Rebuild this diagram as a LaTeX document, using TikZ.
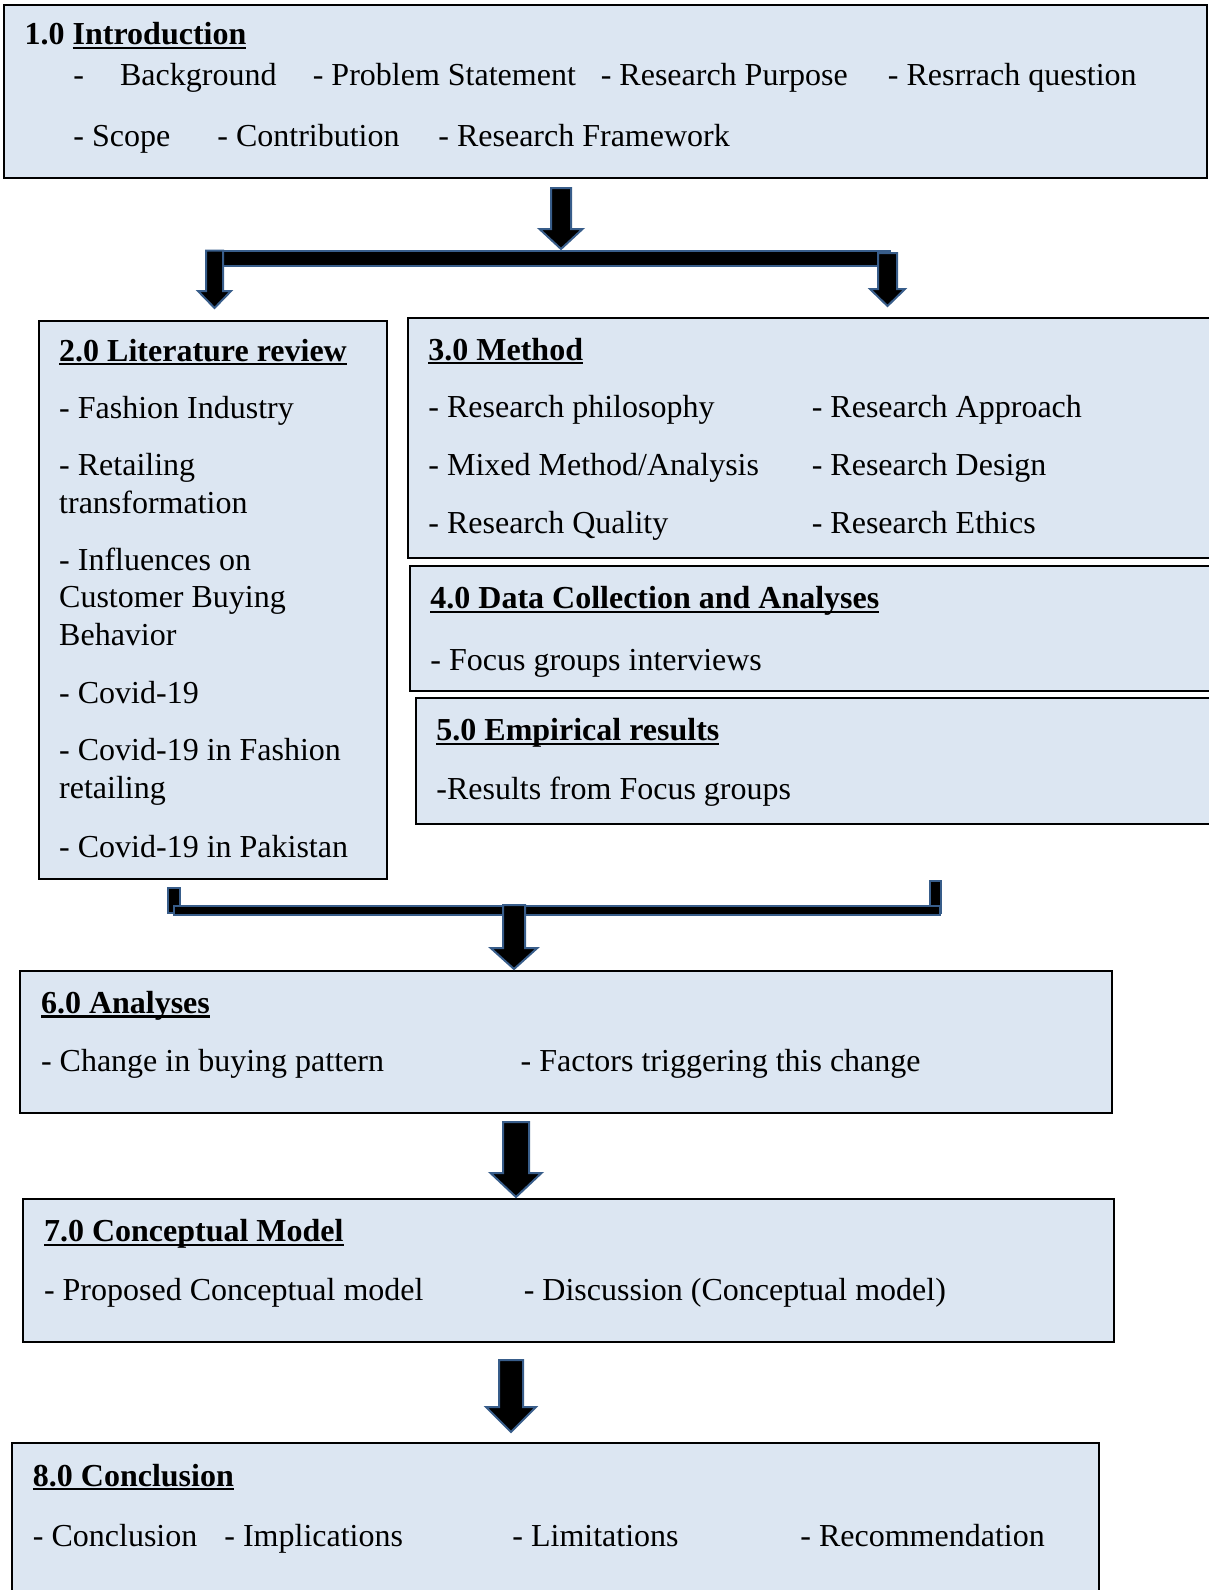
\documentclass[tikz,border=0pt]{standalone}
\usepackage{fontspec}
\setmainfont{Liberation Serif}
\usetikzlibrary{fit}
\definecolor{boxfill}{HTML}{DCE6F2}
\definecolor{arrowline}{HTML}{385D8A}
\newcommand{\ulhead}[1]{\setbox0\hbox{#1}\rlap{\rule[-2.2pt]{\wd0}{1.1pt}}\box0}
% x centre, top, start of head, tip, half shaft, half head
\newcommand{\blockarrow}[6]{\draw[blockarrow] (#1-#5,#2) -- (#1+#5,#2) -- (#1+#5,#3) -- (#1+#6,#3) -- (#1,#4) -- (#1-#6,#3) -- (#1-#5,#3) -- cycle;}
\begin{document}
\begin{tikzpicture}[x=0.5pt, y=-0.5pt,
  box/.style={draw=black, line width=1pt, fill=boxfill, inner sep=0pt},
  txt/.style={anchor=base west, inner sep=0pt, font=\fontsize{16}{19}\selectfont},
  blockarrow/.style={fill=black, draw=arrowline, line width=1pt}]
\useasboundingbox (0,0) rectangle (1209,1590);

\node[box, fit={(4,5) (1207,178)}] (intro) {};
\node[box, fit={(38.5,320.5) (386.5,879)}] (litrev) {};
\node[box, fit={(408,317.5) (1222,558)}] (method) {};
\node[box, fit={(410,566) (1222,691)}] (datacoll) {};
\node[box, fit={(416,698) (1222,823.5)}] (empirical) {};
\node[box, fit={(20,970.5) (1111.5,1112.5)}] (analyses) {};
\node[box, fit={(23,1199) (1113.5,1342)}] (concmodel) {};
\node[box, fit={(12,1443) (1098.5,1600)}] (conclusion) {};

\node[txt] (introhead) at (24.3,44.6) {\textbf{1.0 \ulhead{Introduction}}};
\node[txt] (introdash) at (73,85.2) {-};
\node[txt] (introbg) at (119.7,85.2) {Background};
\node[txt] (introps) at (312.4,85.2) {- Problem Statement};
\node[txt] (introrp) at (600.4,85.2) {- Research Purpose};
\node[txt] (introrq) at (887.5,85.2) {- Resrrach question};
\node[txt] (introsc) at (73,146) {- Scope};
\node[txt] (introco) at (217,146) {- Contribution};
\node[txt] (introrf) at (438,146) {- Research Framework};

\node[txt] (lithead) at (58.8,361) {\textbf{\ulhead{2.0 Literature review}}};
\foreach \y/\t [count=\i] in {418.9/- Fashion Industry, 475.7/- Retailing, 513.2/transformation,
  570/- Influences on, 607.5/Customer Buying, 645/Behavior, 703.9/- Covid-19,
  760.7/- Covid-19 in Fashion, 798.2/retailing, 857/- Covid-19 in Pakistan}
  \node[txt] (lit\i) at (58.8,\y) {\t};

\node[txt] (methhead) at (428,360) {\textbf{\ulhead{3.0 Method}}};
\node[txt] (meth1) at (428,417.8) {- Research philosophy};
\node[txt] (meth2) at (811.4,417.8) {- Research Approach};
\node[txt] (meth3) at (428,475.7) {- Mixed Method/Analysis};
\node[txt] (meth4) at (811.4,475.7) {- Research Design};
\node[txt] (meth5) at (428,533.5) {- Research Quality};
\node[txt] (meth6) at (811.4,533.5) {- Research Ethics};

\node[txt] (datahead) at (430,608.5) {\textbf{\ulhead{4.0 Data Collection and Analyses}}};
\node[txt] (data1) at (430,670.4) {- Focus groups interviews};

\node[txt] (emphead) at (436,740.4) {\textbf{\ulhead{5.0 Empirical results}}};
\node[txt] (emp1) at (436,799.2) {-Results from Focus groups};

\node[txt] (anahead) at (40.6,1013.2) {\textbf{\ulhead{6.0 Analyses}}};
\node[txt] (ana1) at (40.6,1071) {- Change in buying pattern};
\node[txt] (ana2) at (520.3,1071) {- Factors triggering this change};

\node[txt] (modhead) at (43.6,1241.5) {\textbf{\ulhead{7.0 Conceptual Model}}};
\node[txt] (mod1) at (43.6,1300.3) {- Proposed Conceptual model};
\node[txt] (mod2) at (523.4,1300.3) {- Discussion (Conceptual model)};

\node[txt] (conhead) at (32.5,1486) {\textbf{\ulhead{8.0 Conclusion}}};
\node[txt] (con1) at (32.5,1546.7) {- Conclusion};
\node[txt] (con2) at (224,1546.7) {- Implications};
\node[txt] (con3) at (512,1546.7) {- Limitations};
\node[txt] (con4) at (800,1546.7) {- Recommendation};

\draw[blockarrow] (206,250.5) rectangle (890,266);
\blockarrow{214.5}{250.5}{291}{308}{8.5}{16.5}
\blockarrow{887.5}{253}{289}{306}{9.5}{17.5}
\blockarrow{561}{188}{229}{249}{10}{21.5}

\draw[blockarrow] (168,888) rectangle (180,913);
\draw[blockarrow] (930,881) rectangle (941,913);
\draw[blockarrow] (174,906) rectangle (940,915);
\blockarrow{514}{905}{948}{969}{11}{23.3}

\blockarrow{516}{1122}{1173}{1197}{13}{25.5}
\blockarrow{511}{1360}{1407}{1432}{12}{25}
\end{tikzpicture}
\end{document}
